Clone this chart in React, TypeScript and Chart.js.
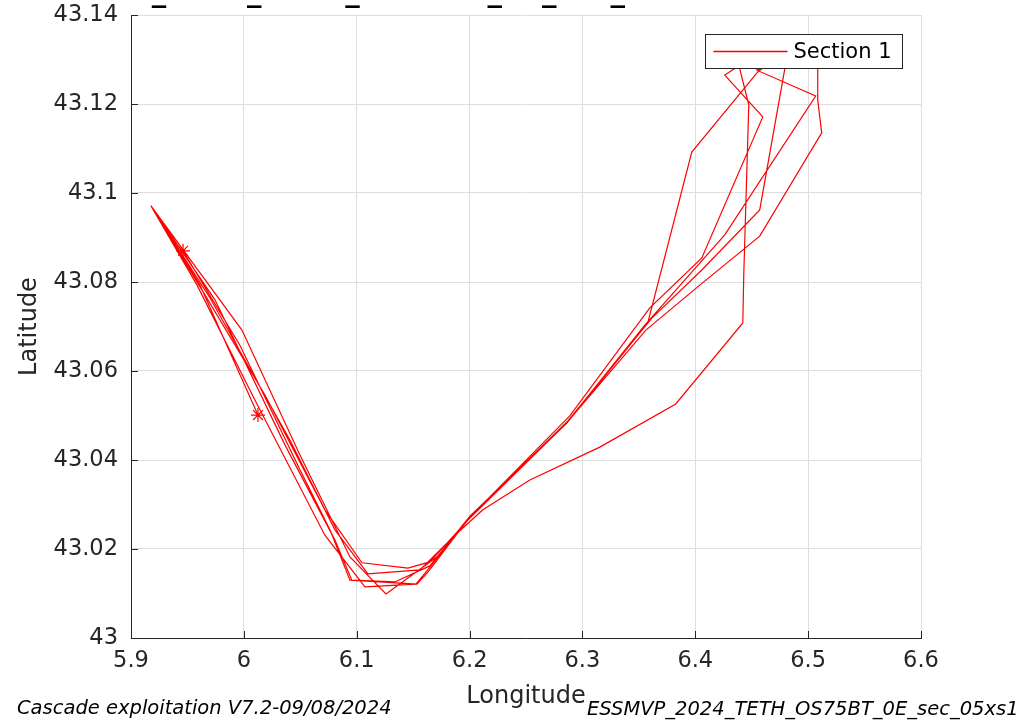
import React, { useEffect, useRef } from "react";
import { Chart, registerables } from "chart.js";

Chart.register(...registerables);

// Ship track (Section 1), longitude / latitude in degrees
const trackLon = [
  5.9461, 5.9965, 6.0497, 6.0763, 6.094, 6.1533, 6.1631, 6.2003, 6.2862, 6.3579, 6.3969, 6.4554, 6.466,
  6.4412, 6.4261, 6.4598, 6.4058, 6.3597, 6.2888, 6.202, 6.1737, 6.1259,
  6.094, 6.0497, 5.9983, 5.9177,
  5.9585, 6.0098, 6.0718, 6.1073, 6.1524, 6.1622, 6.2003, 6.2871, 6.3615, 6.4058, 6.4571, 6.4793, 6.4802,
  6.4545, 6.5067, 6.4261, 6.3553, 6.2853, 6.1985, 6.1648, 6.1454, 6.1046,
  6.0718, 6.0187, 5.9655, 5.9177,
  5.9744, 6.0364, 6.0807, 6.0957, 6.1338, 6.1648, 6.2003, 6.2853, 6.3562, 6.404, 6.4571, 6.512, 6.5085, 6.5085,
  6.4438, 6.4394, 6.4474, 6.443, 6.4421, 6.3827, 6.3154, 6.2534, 6.2118, 6.187, 6.156, 6.1099,
  6.0807, 6.0408, 5.97, 5.9177,
  5.9611, 6.0125,
];
const trackLat = [
  43.087, 43.0658, 43.0378, 43.0243, 43.013, 43.0121, 43.0148, 43.0272, 43.0483, 43.0708, 43.1092, 43.1272, 43.1294,
  43.129, 43.1265, 43.1171, 43.0854, 43.0742, 43.0499, 43.0276, 43.0187, 43.0099,
  43.0182, 43.0411, 43.0692, 43.0971,
  43.0793, 43.0535, 43.0231, 43.0115, 43.0121, 43.0151, 43.0272, 43.0488, 43.0719, 43.0827, 43.0962, 43.1279, 43.1299,
  43.1276, 43.1218, 43.0906, 43.0703, 43.0481, 43.0265, 43.0171, 43.0157, 43.0169,
  43.0288, 43.0546, 43.0771, 43.0971,
  43.076, 43.0434, 43.022, 43.013, 43.0126, 43.0162, 43.0274, 43.0481, 43.0692, 43.0793, 43.0903, 43.1135, 43.1209, 43.1294,
  43.1294, 43.1279, 43.1198, 43.082, 43.0708, 43.0526, 43.0429, 43.0355, 43.0288, 43.0231, 43.0153, 43.0144,
  43.0243, 43.0445, 43.0764, 43.0971,
  43.0793, 43.0501,
];

// Start / end markers
const markerLon = [5.9461, 6.0125];
const markerLat = [43.087, 43.0501];

const xTicks = [5.9, 6, 6.1, 6.2, 6.3, 6.4, 6.5, 6.6];
const yTicks = [43, 43.02, 43.04, 43.06, 43.08, 43.1, 43.12, 43.14];

const seriesName = "Section 1";
const xTitle = "Longitude";
const yTitle = "Latitude";
const topTitle = "ESSMVP_2024_TETH_OS75BT_0E_sec_05xs1";
const footLeft = "Cascade exploitation V7.2-09/08/2024";
const footRight = "ESSMVP_2024_TETH_OS75BT_0E_sec_05xs1";

const FONT = '"DejaVu Sans", sans-serif';
const RED = "#ff0000";
const DARK = "#262626";

const decorPlugin = {
  id: "decor",
  afterDraw(chart: any) {
    const { ctx, chartArea: ca, scales } = chart;
    const xs = scales.x;
    const ys = scales.y;
    ctx.save();

    // inward tick marks
    ctx.strokeStyle = DARK;
    ctx.lineWidth = 1;
    ctx.beginPath();
    xTicks.forEach((v) => {
      const px = Math.round(xs.getPixelForValue(v)) + 0.5;
      ctx.moveTo(px, ca.bottom);
      ctx.lineTo(px, ca.bottom - 7);
    });
    yTicks.forEach((v) => {
      const py = Math.round(ys.getPixelForValue(v)) + 0.5;
      ctx.moveTo(ca.left, py);
      ctx.lineTo(ca.left + 7, py);
    });
    ctx.stroke();

    // legend box
    const lx = Math.round(ca.right) - 216 + 0.5;
    const ly = Math.round(ca.top) + 19 + 0.5;
    const lw = 197;
    const lh = 34;
    ctx.fillStyle = "#ffffff";
    ctx.fillRect(lx, ly, lw, lh);
    ctx.strokeStyle = DARK;
    ctx.lineWidth = 1;
    ctx.strokeRect(lx, ly, lw, lh);
    ctx.strokeStyle = RED;
    ctx.lineWidth = 1.3;
    ctx.beginPath();
    ctx.moveTo(lx + 8, ly + 17);
    ctx.lineTo(lx + 82, ly + 17);
    ctx.stroke();
    ctx.fillStyle = "#000000";
    ctx.font = `21px ${FONT}`;
    ctx.textBaseline = "middle";
    ctx.textAlign = "left";
    ctx.fillText(seriesName, lx + 88, ly + 18);

    // top title, cut off by the figure edge (only its underscores remain visible)
    ctx.save();
    ctx.beginPath();
    ctx.rect(0, 2, chart.width, 10);
    ctx.clip();
    ctx.font = `bold 29px ${FONT}`;
    ctx.textBaseline = "alphabetic";
    ctx.fillText(topTitle, 19, 0.5);
    ctx.restore();

    // footers
    ctx.fillStyle = "#000000";
    ctx.font = `italic 19.5px ${FONT}`;
    ctx.textBaseline = "alphabetic";
    ctx.fillText(footLeft, 17, 714);
    ctx.fillText(footRight, 587, 715);

    ctx.restore();
  },
};

export default function App() {
  const canvasRef = useRef<HTMLCanvasElement | null>(null);

  useEffect(() => {
    if (!canvasRef.current) return;
    const trackData = trackLon.map((x, i) => ({ x, y: trackLat[i] }));
    const markerData = markerLon.map((x, i) => ({ x, y: markerLat[i] }));

    const chart = new Chart(canvasRef.current, {
      type: "scatter",
      data: {
        datasets: [
          {
            label: seriesName,
            data: trackData,
            showLine: true,
            borderColor: RED,
            backgroundColor: RED,
            borderWidth: 1.2,
            pointRadius: 0,
            tension: 0,
          },
          {
            label: "markers",
            data: markerData,
            showLine: false,
            pointStyle: "star",
            pointRadius: 7,
            borderColor: RED,
            backgroundColor: RED,
            pointBorderWidth: 1.2,
          },
        ],
      },
      plugins: [decorPlugin],
      options: {
        animation: false,
        responsive: false,
        devicePixelRatio: 1,
        layout: { padding: { left: 0, right: 114, top: 15, bottom: 0 } },
        plugins: {
          legend: { display: false },
          tooltip: { enabled: false },
          title: { display: false },
        },
        scales: {
          x: {
            type: "linear",
            min: 5.9,
            max: 6.6,
            afterBuildTicks: (s: any) => {
              s.ticks = xTicks.map((v) => ({ value: v }));
            },
            afterFit: (s: any) => {
              s.height = 84;
              s.paddingLeft = 0;
              s.paddingRight = 0;
            },
            grid: { color: "#dedede", drawTicks: false, lineWidth: 1 },
            border: { color: DARK, width: 1 },
            ticks: {
              padding: 10,
              color: DARK,
              font: { family: FONT, size: 22.5 },
              callback: (v: any) => String(v),
            },
            title: {
              display: true,
              text: xTitle,
              color: DARK,
              font: { family: FONT, size: 24 },
              padding: { top: 0, bottom: 11 },
            },
          },
          y: {
            type: "linear",
            min: 43,
            max: 43.14,
            afterBuildTicks: (s: any) => {
              s.ticks = yTicks.map((v) => ({ value: v }));
            },
            afterFit: (s: any) => {
              s.width = 131;
              s.paddingTop = 0;
              s.paddingBottom = 0;
            },
            grid: { color: "#dedede", drawTicks: false, lineWidth: 1 },
            border: { color: DARK, width: 1 },
            ticks: {
              padding: 13,
              color: DARK,
              font: { family: FONT, size: 22.5 },
              callback: (v: any) => String(v),
            },
            title: {
              display: true,
              text: yTitle,
              color: DARK,
              font: { family: FONT, size: 24 },
              padding: { top: 15, bottom: 0 },
            },
          },
        },
      },
    } as any);

    return () => chart.destroy();
  }, []);

  return (
    <div style={{ position: "fixed", left: 0, top: 0, width: 1035, height: 722, background: "#ffffff" }}>
      <canvas ref={canvasRef} width={1035} height={722} style={{ display: "block" }} />
    </div>
  );
}
